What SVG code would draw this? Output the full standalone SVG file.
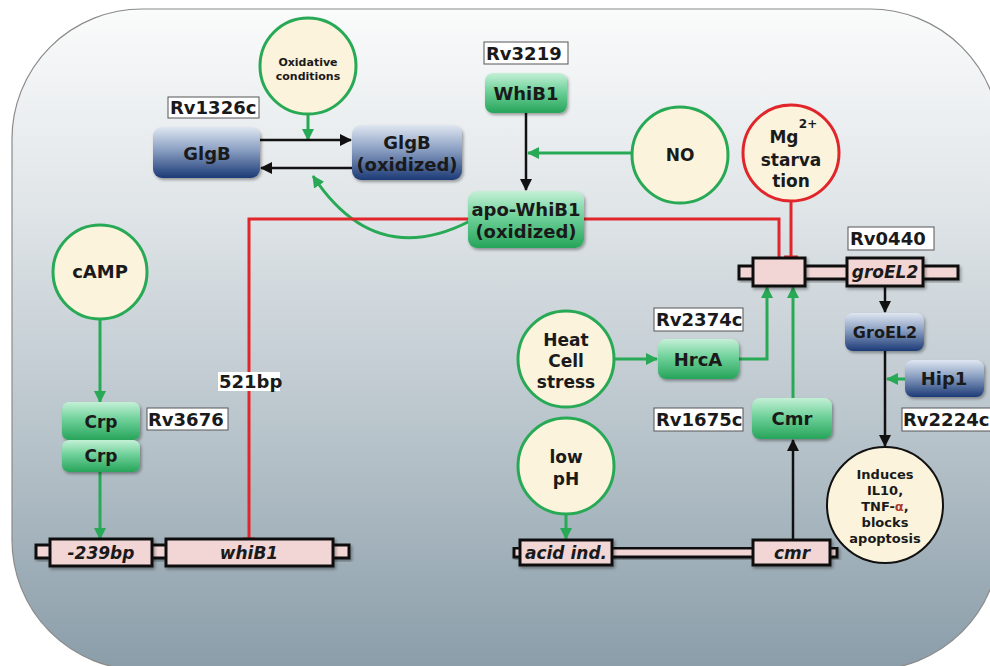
<svg xmlns="http://www.w3.org/2000/svg" width="990" height="666" viewBox="0 0 990 666">
<defs>
  <linearGradient id="bg" x1="0" y1="0" x2="0" y2="1">
    <stop offset="0" stop-color="#fafbfb"/>
    <stop offset="0.3" stop-color="#e0e5e8"/>
    <stop offset="0.65" stop-color="#b7c3ca"/>
    <stop offset="1" stop-color="#8a9da9"/>
  </linearGradient>
  <linearGradient id="gGreen" x1="0" y1="0" x2="0" y2="1">
    <stop offset="0" stop-color="#c4f0d6"/>
    <stop offset="0.45" stop-color="#6fd19a"/>
    <stop offset="1" stop-color="#27a45a"/>
  </linearGradient>
  <linearGradient id="gBlue" x1="0" y1="0" x2="0" y2="1">
    <stop offset="0" stop-color="#dfe6f1"/>
    <stop offset="0.45" stop-color="#8a9fc2"/>
    <stop offset="1" stop-color="#1c3a76"/>
  </linearGradient>
  <filter id="sh" x="-10%" y="-10%" width="130%" height="140%">
    <feDropShadow dx="1.5" dy="2" stdDeviation="1.5" flood-color="#000" flood-opacity="0.35"/>
  </filter>
  <marker id="ag" viewBox="0 0 12 12" refX="11" refY="6" markerWidth="12" markerHeight="12" markerUnits="userSpaceOnUse" orient="auto">
    <path d="M0,0 L12,6 L0,12 z" fill="#27a955"/>
  </marker>
  <marker id="ak" viewBox="0 0 12 12" refX="11" refY="6" markerWidth="12" markerHeight="12" markerUnits="userSpaceOnUse" orient="auto">
    <path d="M0,0 L12,6 L0,12 z" fill="#111"/>
  </marker>
  <style>
    text { font-family: "DejaVu Sans", Verdana, sans-serif; font-weight: bold; fill: #1a1a1a; text-anchor: middle; }
    .lbl { fill: #fff; stroke: #555; stroke-width: 1; }
    .lt { font-size: 18px; text-anchor: start; }
    .box { stroke: none; filter: url(#sh); }
    .gb { fill: url(#gGreen); }
    .bb { fill: url(#gBlue); }
    .bt { font-size: 17px; }
    .cg { fill: #fbf3dc; stroke: #27a955; stroke-width: 3; }
    .cr { fill: #fbf3dc; stroke: #e0262a; stroke-width: 3; }
    .ck { fill: #fbf3dc; stroke: #111; stroke-width: 2; }
    .g { fill: none; stroke: #27a955; stroke-width: 3; marker-end: url(#ag); }
    .k { fill: none; stroke: #111; stroke-width: 2.5; marker-end: url(#ak); }
    .r { fill: none; stroke: #e0262a; stroke-width: 3; }
    .gene { fill: #f2d6d6; stroke: #111; stroke-width: 3; filter: url(#sh); }
    .gt { font-size: 17px; font-style: italic; }
  </style>
</defs>

<rect x="12" y="9" width="988" height="661" rx="130" ry="130" fill="url(#bg)" stroke="#8a8a8a" stroke-width="1.2"/>

<g id="connectors">
  <path class="g" d="M308,114 L308,140"/>
  <path class="k" d="M260,140 L351,140"/>
  <path class="k" d="M352,168 L261,168"/>
  <path class="g" d="M470,221 Q375,270 313,176"/>
  <path class="k" d="M526,113 L526,190"/>
  <path class="g" d="M632,153 L528,153"/>
  <path class="r" d="M468,219 L249,219 L249,539 M243,539 L255,539"/>
  <path class="r" d="M584,219 L779,219 L779,258"/>
  <path class="r" d="M791,201 L791,257 M784,257 L798,257"/>
  <path class="g" d="M100,320 L100,402"/>
  <path class="g" d="M100,472 L100,539"/>
  <path class="g" d="M615,359 L657,359"/>
  <path class="g" d="M739,359 L767,359 L767,287"/>
  <path class="g" d="M793,398 L793,287"/>
  <path class="k" d="M793,540 L793,440"/>
  <path class="g" d="M566,514 L566,539"/>
  <path class="k" d="M885,286 L885,312"/>
  <path class="g" d="M905,379 L887,379"/>
  <path class="k" d="M885,351 L885,446"/>
</g>

<g id="oxidative">
  <circle class="cg" cx="308" cy="66" r="48"/>
  <text x="308" y="66" font-size="11">Oxidative</text>
  <text x="308" y="80" font-size="11">conditions</text>
</g>
<g id="rv1326c">
  <rect class="lbl" x="168" y="97" width="91" height="21"/>
  <text class="lt" x="170" y="114">Rv1326c</text>
</g>
<g id="glgb">
  <rect class="box bb" x="153" y="127" width="107" height="51" rx="9"/>
  <text x="207" y="160" font-size="18">GlgB</text>
</g>
<g id="glgb-ox">
  <rect class="box bb" x="352" y="125" width="110" height="55" rx="9"/>
  <text x="407" y="149" font-size="18">GlgB</text>
  <text x="407" y="171" font-size="18">(oxidized)</text>
</g>
<g id="rv3219">
  <rect class="lbl" x="484" y="42" width="84" height="22"/>
  <text class="lt" x="486" y="60">Rv3219</text>
</g>
<g id="whib1">
  <rect class="box gb" x="485" y="73" width="82" height="40" rx="8"/>
  <text x="526" y="100" font-size="18">WhiB1</text>
</g>
<g id="apo-whib1">
  <rect class="box gb" x="468" y="191" width="116" height="57" rx="9"/>
  <text x="526" y="216" font-size="18">apo-WhiB1</text>
  <text x="526" y="238" font-size="18">(oxidized)</text>
</g>
<g id="no">
  <circle class="cg" cx="680" cy="155" r="48"/>
  <text x="680" y="161" font-size="17">NO</text>
</g>
<g id="mg">
  <circle class="cr" cx="791" cy="153" r="48"/>
  <text x="784" y="143" font-size="17">Mg</text>
  <text x="808" y="128" font-size="12">2+</text>
  <text x="791" y="166" font-size="17">starva</text>
  <text x="791" y="187" font-size="17">tion</text>
</g>
<g id="camp">
  <circle class="cg" cx="100" cy="272" r="47"/>
  <text x="100" y="278" font-size="18">cAMP</text>
</g>
<g id="bp521">
  <rect fill="#fff" x="218" y="372" width="62" height="19"/>
  <text class="lt" x="219" y="388" font-size="17">521bp</text>
</g>
<g id="crp">
  <rect class="box gb" x="62" y="402" width="78" height="38" rx="7"/>
  <rect class="box gb" x="62" y="440" width="78" height="32" rx="7"/>
  <text x="101" y="428" font-size="17">Crp</text>
  <text x="101" y="462" font-size="17">Crp</text>
</g>
<g id="rv3676">
  <rect class="lbl" x="147" y="408" width="81" height="22"/>
  <text class="lt" x="148" y="426">Rv3676</text>
</g>
<g id="whib1-gene">
  <rect class="gene" x="36" y="545" width="313" height="13"/>
  <rect class="gene" x="50" y="539" width="102" height="27"/>
  <rect class="gene" x="166" y="539" width="167" height="27"/>
  <text class="gt" x="101" y="559" font-size="18">-239bp</text>
  <text class="gt" x="249" y="559" font-size="18">whiB1</text>
</g>
<g id="groel2-gene">
  <rect class="gene" x="739" y="266" width="219" height="13"/>
  <rect class="gene" x="753" y="258" width="52" height="28"/>
  <rect class="gene" x="847" y="258" width="76" height="28"/>
  <text class="gt" x="885" y="278">groEL2</text>
</g>
<g id="rv0440">
  <rect class="lbl" x="848" y="227" width="86" height="23"/>
  <text class="lt" x="850" y="245">Rv0440</text>
</g>
<g id="heat">
  <circle class="cg" cx="566" cy="359" r="48"/>
  <text x="566" y="346" font-size="17">Heat</text>
  <text x="566" y="367" font-size="17">Cell</text>
  <text x="566" y="388" font-size="17">stress</text>
</g>
<g id="rv2374c">
  <rect class="lbl" x="654" y="308" width="89" height="23"/>
  <text class="lt" x="656" y="326">Rv2374c</text>
</g>
<g id="hrca">
  <rect class="box gb" x="658" y="339" width="81" height="40" rx="8"/>
  <text x="698" y="366" font-size="18">HrcA</text>
</g>
<g id="rv1675c">
  <rect class="lbl" x="654" y="408" width="89" height="23"/>
  <text class="lt" x="656" y="426">Rv1675c</text>
</g>
<g id="cmr-prot">
  <rect class="box gb" x="752" y="398" width="80" height="41" rx="8"/>
  <text x="792" y="425" font-size="18">Cmr</text>
</g>
<g id="lowph">
  <circle class="cg" cx="566" cy="466" r="48"/>
  <text x="566" y="463" font-size="17">low</text>
  <text x="566" y="485" font-size="17">pH</text>
</g>
<g id="cmr-gene">
  <rect class="gene" x="514" y="548" width="323" height="9"/>
  <rect class="gene" x="520" y="540" width="92" height="25"/>
  <rect class="gene" x="753" y="540" width="77" height="25"/>
  <text class="gt" x="566" y="559">acid ind.</text>
  <text class="gt" x="792" y="559" font-size="18">cmr</text>
</g>
<g id="groel2">
  <rect class="box bb" x="845" y="313" width="79" height="38" rx="8"/>
  <text x="885" y="338" font-size="16">GroEL2</text>
</g>
<g id="hip1">
  <rect class="box bb" x="905" y="360" width="79" height="37" rx="8"/>
  <text x="944" y="385" font-size="18">Hip1</text>
</g>
<g id="rv2224c">
  <rect class="lbl" x="902" y="408" width="92" height="23"/>
  <text class="lt" x="903" y="426">Rv2224c</text>
</g>
<g id="induces">
  <circle class="ck" cx="885" cy="505" r="58"/>
  <text x="885" y="479" font-size="13">Induces</text>
  <text x="885" y="495" font-size="13">IL10,</text>
  <text x="885" y="511" font-size="13">TNF-<tspan fill="#b03a2e">α</tspan>,</text>
  <text x="885" y="527" font-size="13">blocks</text>
  <text x="885" y="543" font-size="13">apoptosis</text>
</g>
</svg>
